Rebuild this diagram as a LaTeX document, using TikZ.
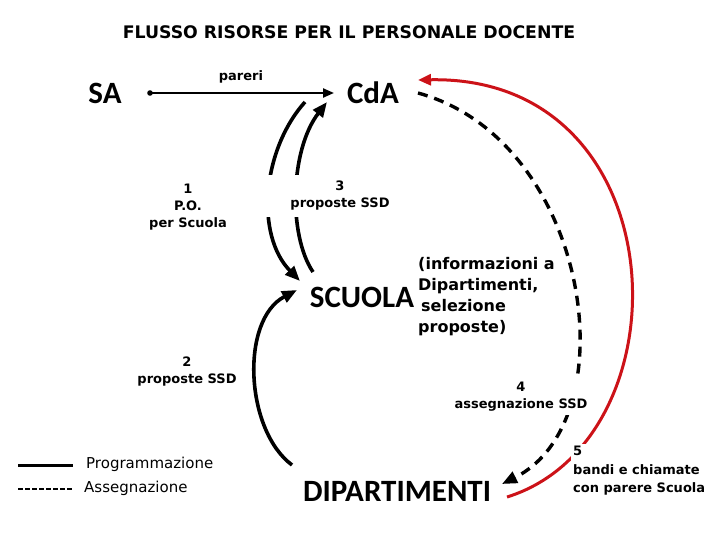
\documentclass[tikz,border=0pt]{standalone}
\usepackage{fontspec}
\setmainfont{DejaVu Sans}
\newfontfamily\carl{Carlito}
\usetikzlibrary{arrows.meta}
\definecolor{redline}{RGB}{204,18,24}
\begin{document}
\begin{tikzpicture}[x=1pt,y=-1pt,
  big/.style={font=\carl\bfseries\fontsize{31}{31}\selectfont, inner sep=0pt},
  lbl/.style={font=\bfseries\fontsize{13}{17}\selectfont, align=center, inner sep=2pt, fill=white},
  flow/.style={line width=3.6pt, -{Triangle[length=15pt,width=12pt]}},
  assign/.style={line width=3.4pt, dash pattern=on 10pt off 7pt, -{Triangle[length=15pt,width=12pt]}},
  redflow/.style={line width=3pt, draw=redline, -{Triangle[length=13pt,width=11pt]}, redline},
  legtext/.style={font=\fontsize{15}{17}\selectfont, anchor=west, inner sep=0pt}
]
\useasboundingbox (0,0) rectangle (720,540);

% main nodes
\node[font=\bfseries\fontsize{17.3}{20}\selectfont] (title) at (349,32) {FLUSSO RISORSE PER IL PERSONALE DOCENTE};
\node[big] (SA) at (105,93) {SA};
\node[big] (CdA) at (373,93) {CdA};
\node[big] (SCUOLA) at (362,297) {SCUOLA};
\node[big] (DIP) at (397,491) {DIPARTIMENTI};

% endpoint coordinates
\coordinate (p0) at (150,93);
\coordinate (p1) at (334,93);
\coordinate (a0) at (305,102);
\coordinate (a1) at (300,281);
\coordinate (b0) at (313,272);
\coordinate (b1) at (327,102);
\coordinate (c0) at (292,465);
\coordinate (c1) at (297,290);
\coordinate (d0) at (418,93);
\coordinate (d1) at (502,484);
\coordinate (r0) at (507,497);
\coordinate (r1) at (418,80);

% connectors
\fill (p0) circle (2.8);
\draw[line width=2.2pt, -{Triangle[length=11pt,width=9pt]}] (p0) -- (p1);
\draw[flow] (a0) .. controls (262,150) and (255,235) .. (a1);
\draw[flow] (b0) .. controls (288,235) and (290,150) .. (b1);
\draw[flow] (c0) .. controls (245,430) and (240,320) .. (c1);
\draw[assign] (d0) .. controls (590,140) and (630,420) .. (d1);
\draw[redflow] (r0) .. controls (690,440) and (680,75) .. (r1);

% labels
\node[lbl, fill=none] (pareri) at (241,77) {pareri};
\node[lbl, fill=none] (l1) at (188,207) {1\\P.O.\\per Scuola};
\node[lbl, minimum width=170pt, minimum height=42pt] (l3) at (340,196) {3\\proposte SSD};
\node[lbl, fill=none] (l2) at (187,372) {2\\proposte SSD};
\node[lbl, inner sep=3pt] (l4) at (521,397) {4\\assegnazione SSD};
\node[lbl, font=\bfseries\fontsize{13}{18.5}\selectfont, align=left, anchor=north west, inner sep=2pt] (l5) at (571,444) {5\\bandi e chiamate\\con parere Scuola};
\node[font=\bfseries\fontsize{16}{21}\selectfont, align=left, anchor=north west, inner sep=0pt] (info) at (418,257)
  {(informazioni a\\Dipartimenti,\\\hspace{3pt}selezione\\proposte)};

% legend
\coordinate (la) at (18,465);
\coordinate (lb) at (73,465);
\coordinate (lc) at (18,489);
\coordinate (ld) at (73,489);
\draw[line width=3pt] (la) -- (lb);
\draw[line width=2.6pt, dash pattern=on 5pt off 2pt] (lc) -- (ld);
\node[legtext] (lg1) at (86,464) {Programmazione};
\node[legtext] (lg2) at (84,488) {Assegnazione};
\end{tikzpicture}
\end{document}
